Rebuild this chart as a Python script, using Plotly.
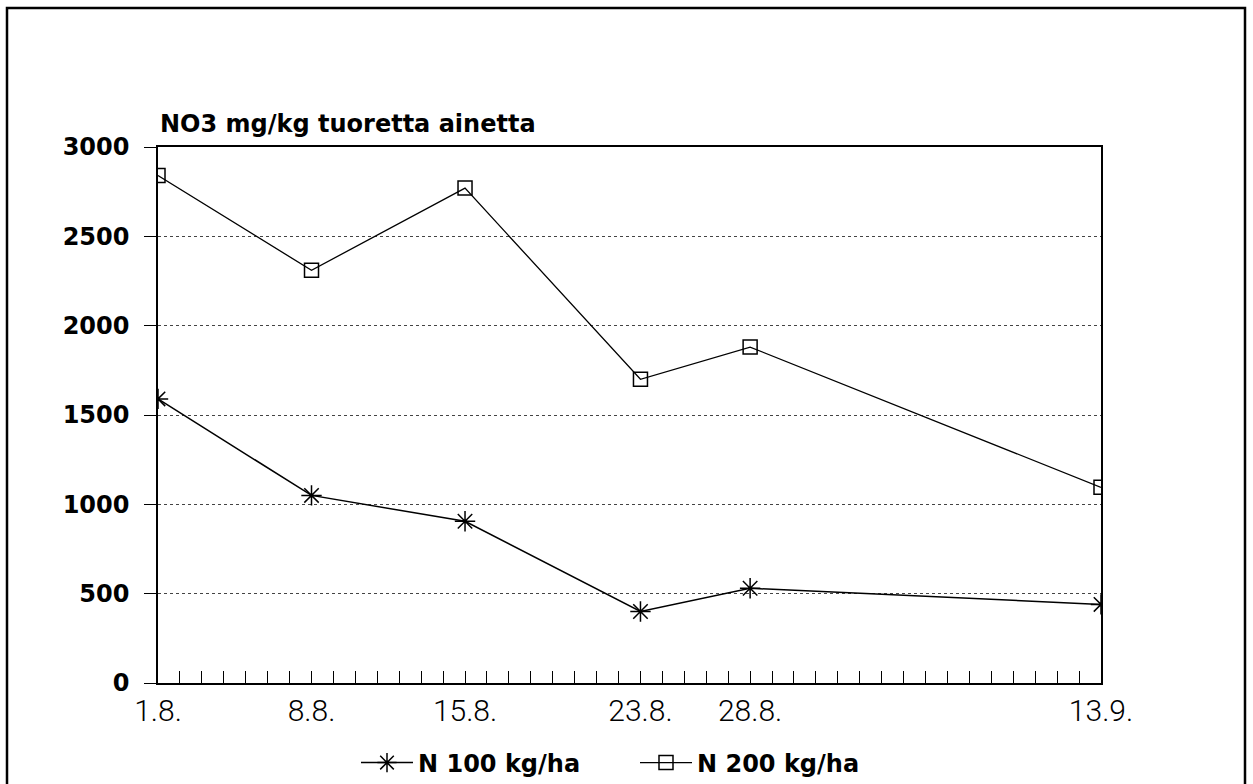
import plotly.graph_objects as go

# ---- data ----
dates = ["2000-08-01", "2000-08-08", "2000-08-15", "2000-08-23", "2000-08-28", "2000-09-13"]
date_labels = ["1.8.", "8.8.", "15.8.", "23.8.", "28.8.", "13.9."]
n100 = [1590, 1050, 905, 400, 530, 440]
n200 = [2840, 2310, 2770, 1700, 1880, 1095]
series_names = ["N 100 kg/ha", "N 200 kg/ha"]
y_title = "NO3 mg/kg tuoretta ainetta"

W, H = 1253, 784
L, R, T, B = 158, 152, 147, 101
pw, ph = W - L - R, H - T - B

bold_font = dict(family="DejaVu Sans", size=24, color="black", weight="bold")

fig = go.Figure()
fig.add_trace(go.Scatter(
    x=dates, y=n100, mode="lines+markers", name=series_names[0],
    line=dict(color="black", width=1.5),
    marker=dict(symbol="asterisk-open", size=17, color="black",
                line=dict(color="black", width=1.5)),
))
fig.add_trace(go.Scatter(
    x=dates, y=n200, mode="lines+markers", name=series_names[1],
    line=dict(color="black", width=1.3),
    marker=dict(symbol="square-open", size=14, color="black",
                line=dict(color="black", width=1.5)),
))

fig.update_layout(
    width=W, height=H,
    margin=dict(l=L, r=R, t=T, b=B, pad=0),
    paper_bgcolor="white", plot_bgcolor="white",
    showlegend=True,
    legend=dict(orientation="h", x=356 / W, xref="container",
                xanchor="left", y=(H - 763) / H, yref="container",
                yanchor="middle", font=bold_font, entrywidth=212,
                itemwidth=52, bgcolor="rgba(0,0,0,0)"),
    xaxis=dict(
        type="date",
        range=[dates[0], dates[-1]],
        tickmode="array", tickvals=dates, ticktext=date_labels,
        ticks="inside", ticklen=12, tickwidth=1.3, tickcolor="black",
        minor=dict(dtick=86400000, ticks="inside", ticklen=12,
                   tickwidth=1.3, tickcolor="black", showgrid=False),
        showgrid=False, zeroline=False,
        showline=True, linecolor="black", linewidth=1.5, mirror=True,
        tickfont=dict(family="Roboto", size=30, color="black", weight=300),
        ticklabelstandoff=0,
    ),
    yaxis=dict(
        range=[0, 3000], tick0=0, dtick=500,
        ticks="outside", ticklen=12, tickwidth=1.3, tickcolor="black",
        showgrid=True, gridcolor="#444", griddash="dot", gridwidth=1,
        zeroline=False,
        showline=True, linecolor="black", linewidth=1.5, mirror=True,
        tickfont=bold_font,
        ticklabelstandoff=10,
    ),
    annotations=[dict(
        text=y_title, xref="paper", yref="paper", x=0, y=1 + (147 - 124) / ph,
        xanchor="left", yanchor="middle", showarrow=False, font=bold_font,
    )],
    shapes=[dict(
        type="rect", xref="paper", yref="paper",
        x0=(7 - L) / pw, x1=(1245 - L) / pw,
        y0=-(H + 5 - T - ph) / ph, y1=1 + (T - 8) / ph,
        line=dict(color="black", width=2.5), fillcolor="rgba(0,0,0,0)",
        layer="below",
    )],
)

fig.write_html("out.html")
